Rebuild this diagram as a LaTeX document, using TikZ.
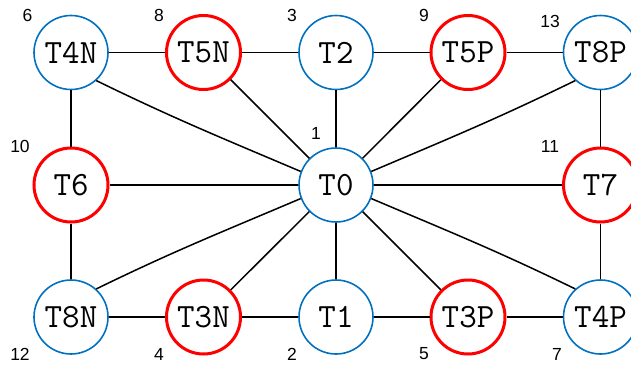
\documentclass[tikz,border=0pt]{standalone}
\usepackage{fontspec}
\newfontfamily\labelfont{Liberation Sans}
\definecolor{nblue}{RGB}{0,112,192}
\definecolor{nred}{RGB}{255,0,0}
\tikzset{
  bnode/.style={circle, draw=nblue, line width=1.6pt, minimum size=74pt, inner sep=0pt, fill=white,
    font=\ttfamily\fontsize{34}{34}\selectfont},
  rnode/.style={bnode, draw=nred, line width=3pt},
  edge/.style={draw=black, line width=1.5pt},
  num/.style={font=\labelfont\fontsize{17.5}{17.5}\selectfont, inner sep=0pt}
}
\begin{document}
\begin{tikzpicture}[x=1pt,y=-1pt]
\useasboundingbox (0,0) rectangle (631,365);
% nodes
\node[bnode] (T4N) at (71,52.5) {T4N};
\node[rnode] (T5N) at (203.5,52.5) {T5N};
\node[bnode] (T2) at (336,52.5) {T2};
\node[rnode] (T5P) at (468,52.5) {T5P};
\node[bnode] (T8P) at (600.5,52.5) {T8P};
\node[rnode] (T6) at (71,185) {T6};
\node[bnode] (T0) at (336,185) {T0};
\node[rnode] (T7) at (600.5,185) {T7};
\node[bnode] (T8N) at (71,317) {T8N};
\node[rnode] (T3N) at (203.5,317) {T3N};
\node[bnode] (T1) at (336,317) {T1};
\node[rnode] (T3P) at (468,317) {T3P};
\node[bnode] (T4P) at (600.5,317) {T4P};
% labels
\node[num] (l6) at (27.5,15) {6};
\node[num] (l8) at (159,15) {8};
\node[num] (l3) at (292,15) {3};
\node[num] (l9) at (424,15) {9};
\node[num] (l13) at (550,21) {13};
\node[num] (l10) at (20,146.5) {10};
\node[num] (l1) at (316,133) {1};
\node[num] (l11) at (550,146.5) {11};
\node[num] (l12) at (20,354) {12};
\node[num] (l4) at (159,354) {4};
\node[num] (l2) at (292,354) {2};
\node[num] (l5) at (424,354) {5};
\node[num] (l7) at (557,354) {7};
% edges
\path[edge] (T4N) -- (T5N);
\path[edge] (T5N) -- (T2);
\path[edge] (T2) -- (T5P);
\path[edge] (T5P) -- (T8P);
\path[edge] (T8N) -- (T3N);
\path[edge] (T3N) -- (T1);
\path[edge] (T1) -- (T3P);
\path[edge] (T3P) -- (T4P);
\path[edge] (T4N) -- (T6);
\path[edge] (T6) -- (T8N);
\path[edge] (T8P) -- (T7);
\path[edge] (T7) -- (T4P);
\path[edge] (T0) -- (T6);
\path[edge] (T0) -- (T7);
\path[edge] (T0) -- (T2);
\path[edge] (T0) -- (T1);
\path[edge] (T0) -- (T5N);
\path[edge] (T0) -- (T5P);
\path[edge] (T0) -- (T3N);
\path[edge] (T0) -- (T3P);
\path[edge] (T0.159) to[out=157,in=-26] (T4N.-48);
\path[edge] (T0.21) to[out=23,in=206] (T8P.228);
\path[edge] (T0.201) to[out=203,in=26] (T8N.48);
\path[edge] (T0.-21) to[out=-23,in=154] (T4P.132);
\end{tikzpicture}
\end{document}
